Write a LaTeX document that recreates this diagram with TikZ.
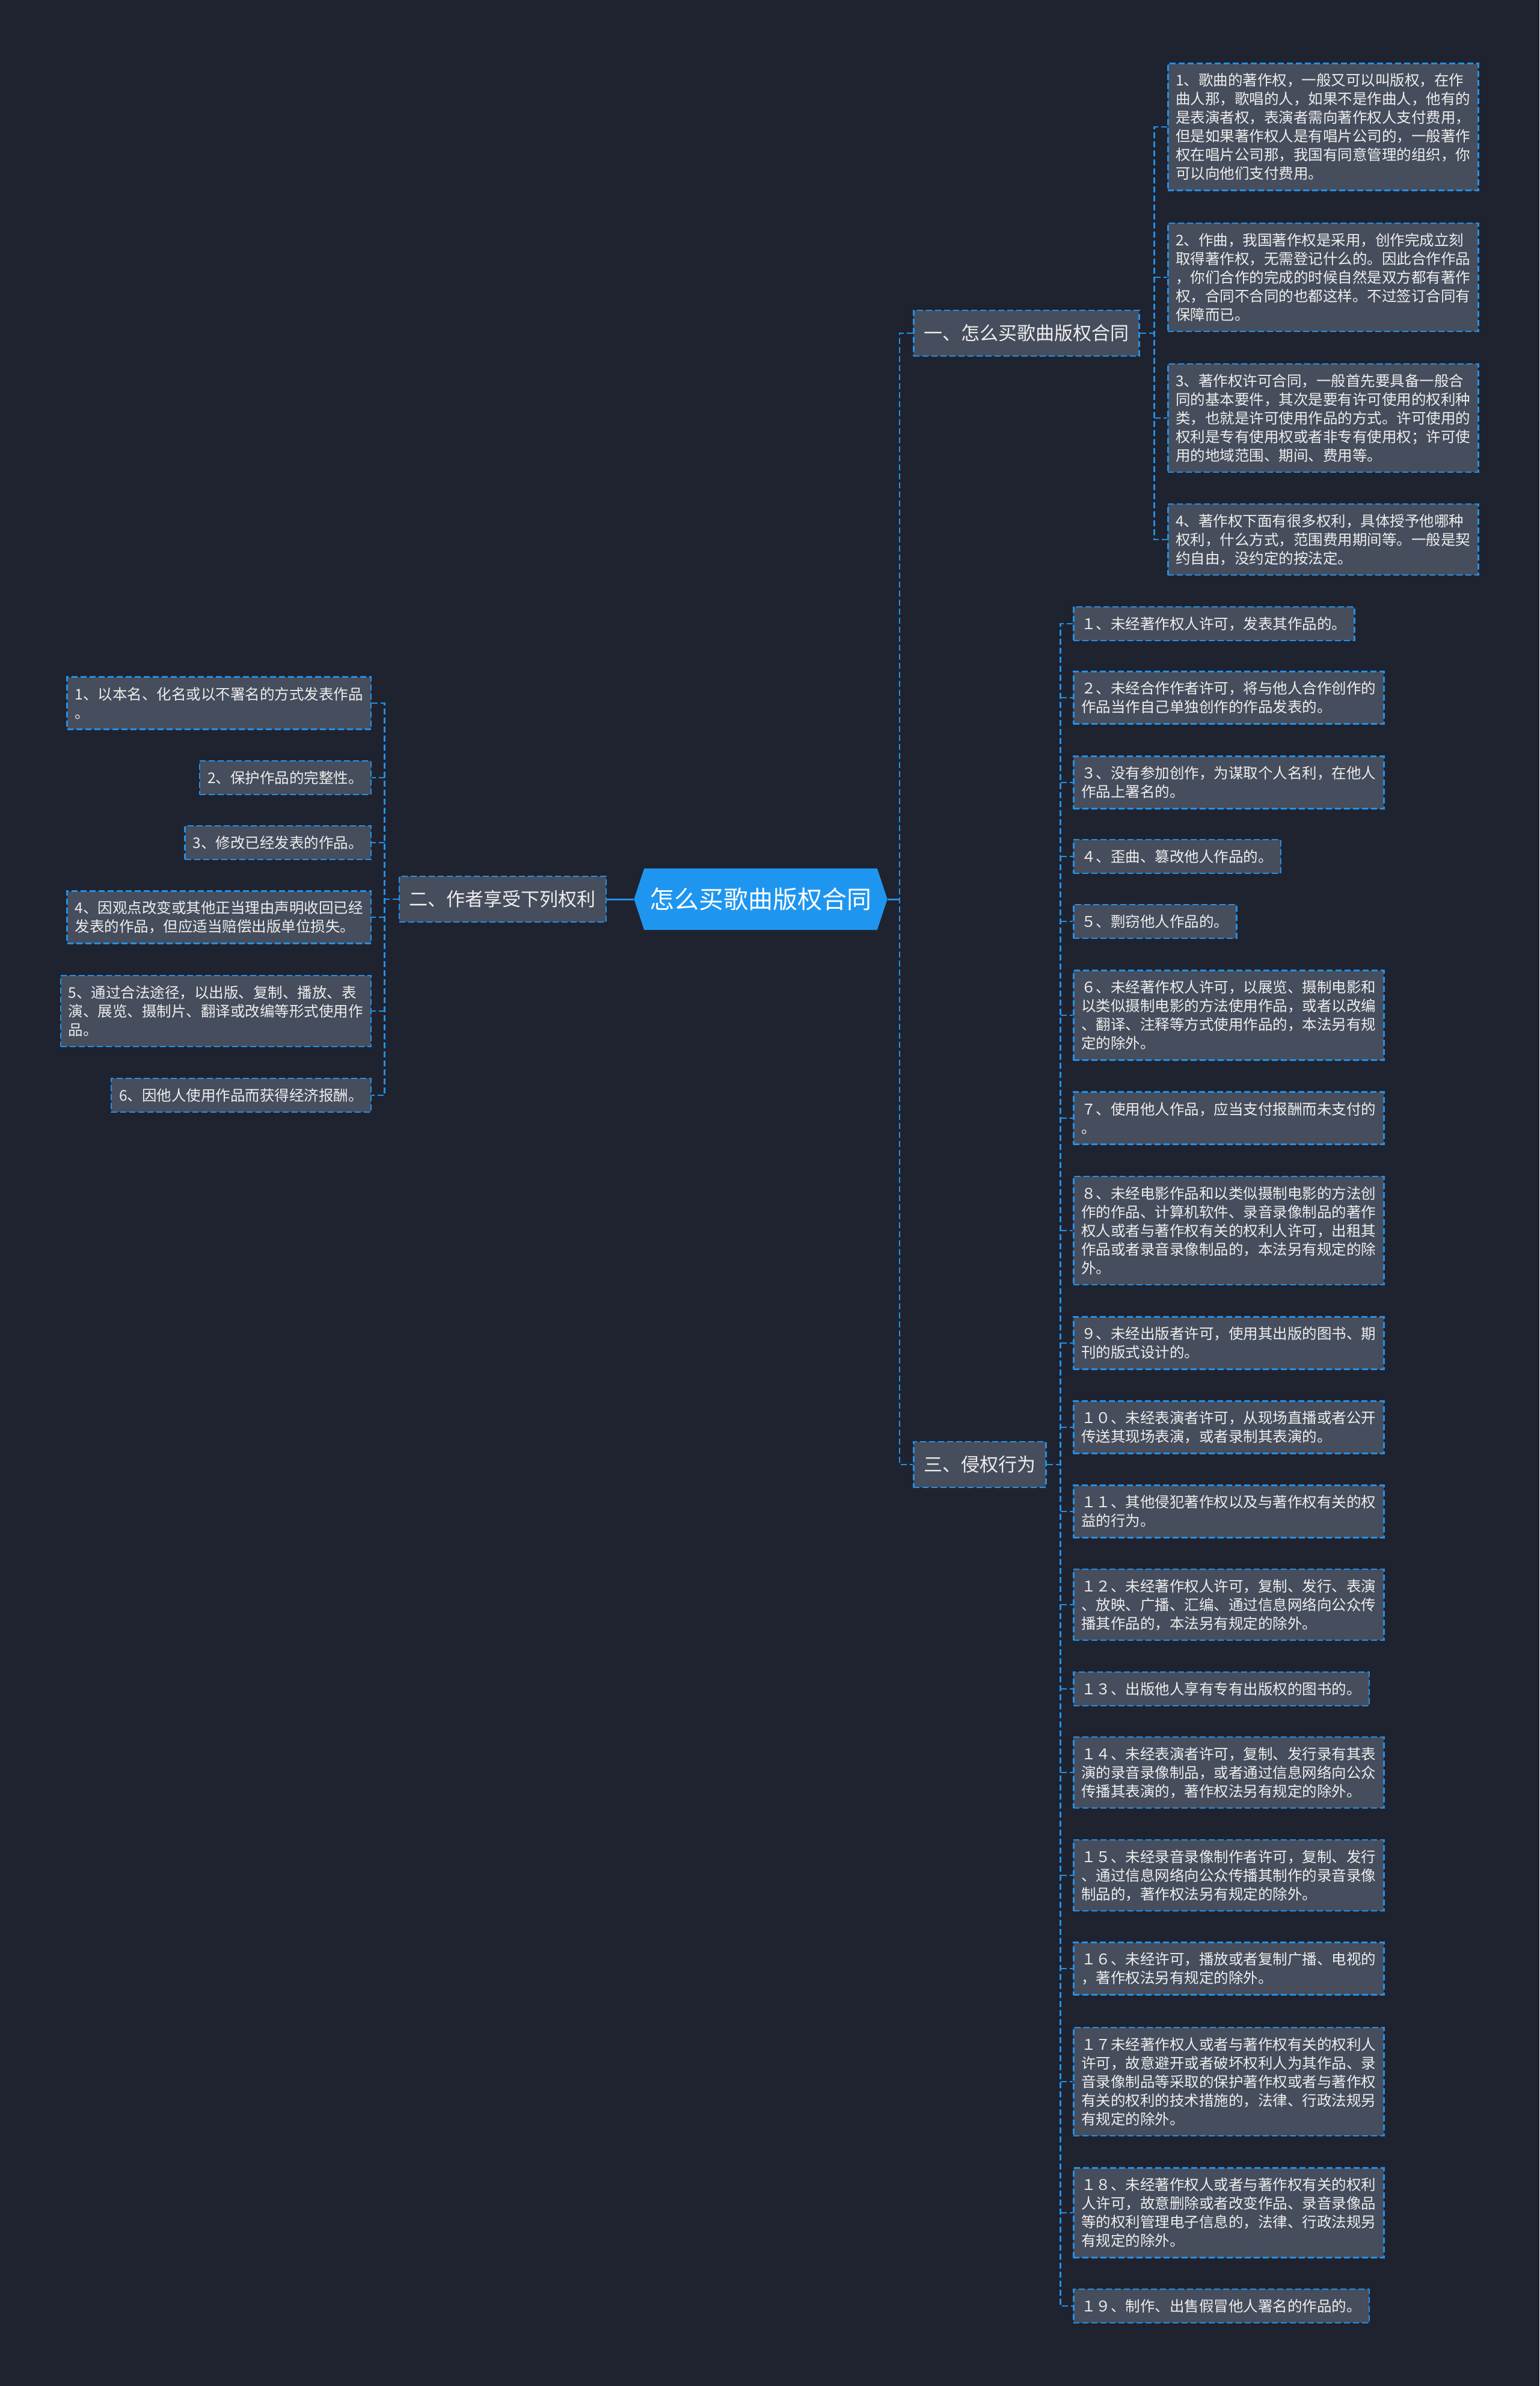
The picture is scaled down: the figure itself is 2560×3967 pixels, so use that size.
\documentclass[tikz,border=0pt]{standalone}
\usepackage{fontspec}
\setmainfont{Noto Sans CJK SC}
\usetikzlibrary{backgrounds}
\definecolor{bgc}{HTML}{1F2330}
\definecolor{boxfill}{HTML}{464D5C}
\definecolor{lineblue}{HTML}{2390E6}
\definecolor{rootfill}{HTML}{1E96F0}
\definecolor{txt}{HTML}{EEEEEE}
\tikzset{
  box/.style={draw=lineblue, fill=boxfill, line width=2.5pt, dash pattern=on 10pt off 5pt,
    text=txt, align=left, inner xsep=13pt, inner ysep=0pt,
    font=\fontsize{24.5}{31}\selectfont},
  lvl/.style={draw=lineblue, fill=boxfill, line width=2.5pt, dash pattern=on 10pt off 5pt,
    text=txt, inner xsep=17pt, inner ysep=0pt, minimum height=76pt,
    font=\fontsize{31}{38}\selectfont},
  ln1/.style={minimum height=56pt},
  ln2/.style={minimum height=87pt},
  ln3/.style={minimum height=118pt},
  ln4/.style={minimum height=149pt},
  ln5/.style={minimum height=180pt},
  ln6/.style={minimum height=211pt},
  dconn/.style={draw=lineblue, line width=2.5pt, dash pattern=on 10pt off 5pt},
  sconn/.style={draw=lineblue, line width=3pt},
}
\begin{document}
\begin{tikzpicture}[x=1pt,y=-1pt]
\useasboundingbox (0,0) rectangle (2560,3967);
\begin{scope}[on background layer]
  \fill[bgc] (0,0) rectangle (2560,3967);
\end{scope}

% root
\node[text=white, font=\fontsize{41}{48}\selectfont, minimum width=421pt, minimum height=102pt, inner sep=0pt] (root) at (1265,1495) {怎么买歌曲版权合同};
\begin{scope}[on background layer]
  \fill[rootfill] (root.west) -- ([xshift=17pt]root.north west) -- ([xshift=-17pt]root.north east)
    -- (root.east) -- ([xshift=-17pt]root.south east) -- ([xshift=17pt]root.south west) -- cycle;
\end{scope}

% level 1
\node[lvl, anchor=east] (L) at (1009,1495) {二、作者享受下列权利};
\node[lvl, anchor=west] (A) at (1518,554) {一、怎么买歌曲版权合同};
\node[lvl, anchor=west] (C) at (1518,2435) {三、侵权行为};

% A children
\node[box, ln6, anchor=west] (a1) at (1941,211) {1、歌曲的著作权，一般又可以叫版权，在作\\曲人那，歌唱的人，如果不是作曲人，他有的\\是表演者权，表演者需向著作权人支付费用，\\但是如果著作权人是有唱片公司的，一般著作\\权在唱片公司那，我国有同意管理的组织，你\\可以向他们支付费用。};
\node[box, ln5, anchor=west] (a2) at (1941,461) {2、作曲，我国著作权是采用，创作完成立刻\\取得著作权，无需登记什么的。因此合作作品\\，你们合作的完成的时候自然是双方都有著作\\权，合同不合同的也都这样。不过签订合同有\\保障而已。};
\node[box, ln5, anchor=west] (a3) at (1941,695) {3、著作权许可合同，一般首先要具备一般合\\同的基本要件，其次是要有许可使用的权利种\\类，也就是许可使用作品的方式。许可使用的\\权利是专有使用权或者非专有使用权；许可使\\用的地域范围、期间、费用等。};
\node[box, ln3, anchor=west] (a4) at (1941,897) {4、著作权下面有很多权利，具体授予他哪种\\权利，什么方式，范围费用期间等。一般是契\\约自由，没约定的按法定。};

% L children
\node[box, ln2, anchor=east] (l1) at (618,1169) {1、以本名、化名或以不署名的方式发表作品\\。};
\node[box, ln1, anchor=east] (l2) at (618,1293) {2、保护作品的完整性。};
\node[box, ln1, anchor=east] (l3) at (618,1401) {3、修改已经发表的作品。};
\node[box, ln2, anchor=east] (l4) at (618,1525) {4、因观点改变或其他正当理由声明收回已经\\发表的作品，但应适当赔偿出版单位损失。};
\node[box, ln3, anchor=east] (l5) at (618,1681) {5、通过合法途径，以出版、复制、播放、表\\演、展览、摄制片、翻译或改编等形式使用作\\品。};
\node[box, ln1, anchor=east] (l6) at (618,1821) {6、因他人使用作品而获得经济报酬。};

% C children
\node[box, ln1, anchor=west] (c1) at (1784,1037) {１、未经著作权人许可，发表其作品的。};
\node[box, ln2, anchor=west] (c2) at (1784,1160) {２、未经合作作者许可，将与他人合作创作的\\作品当作自己单独创作的作品发表的。};
\node[box, ln2, anchor=west] (c3) at (1784,1301) {３、没有参加创作，为谋取个人名利，在他人\\作品上署名的。};
\node[box, ln1, anchor=west] (c4) at (1784,1424) {４、歪曲、篡改他人作品的。};
\node[box, ln1, anchor=west] (c5) at (1784,1532) {５、剽窃他人作品的。};
\node[box, ln4, anchor=west] (c6) at (1784,1688) {６、未经著作权人许可，以展览、摄制电影和\\以类似摄制电影的方法使用作品，或者以改编\\、翻译、注释等方式使用作品的，本法另有规\\定的除外。};
\node[box, ln2, anchor=west] (c7) at (1784,1859) {７、使用他人作品，应当支付报酬而未支付的\\。};
\node[box, ln5, anchor=west] (c8) at (1784,2046) {８、未经电影作品和以类似摄制电影的方法创\\作的作品、计算机软件、录音录像制品的著作\\权人或者与著作权有关的权利人许可，出租其\\作品或者录音录像制品的，本法另有规定的除\\外。};
\node[box, ln2, anchor=west] (c9) at (1784,2233) {９、未经出版者许可，使用其出版的图书、期\\刊的版式设计的。};
\node[box, ln2, anchor=west] (c10) at (1784,2373) {１０、未经表演者许可，从现场直播或者公开\\传送其现场表演，或者录制其表演的。};
\node[box, ln2, anchor=west] (c11) at (1784,2513) {１１、其他侵犯著作权以及与著作权有关的权\\益的行为。};
\node[box, ln3, anchor=west] (c12) at (1784,2668) {１２、未经著作权人许可，复制、发行、表演\\、放映、广播、汇编、通过信息网络向公众传\\播其作品的，本法另有规定的除外。};
\node[box, ln1, anchor=west] (c13) at (1784,2808) {１３、出版他人享有专有出版权的图书的。};
\node[box, ln3, anchor=west] (c14) at (1784,2947) {１４、未经表演者许可，复制、发行录有其表\\演的录音录像制品，或者通过信息网络向公众\\传播其表演的，著作权法另有规定的除外。};
\node[box, ln3, anchor=west] (c15) at (1784,3118) {１５、未经录音录像制作者许可，复制、发行\\、通过信息网络向公众传播其制作的录音录像\\制品的，著作权法另有规定的除外。};
\node[box, ln2, anchor=west] (c16) at (1784,3273) {１６、未经许可，播放或者复制广播、电视的\\，著作权法另有规定的除外。};
\node[box, ln5, anchor=west] (c17) at (1784,3461) {１７未经著作权人或者与著作权有关的权利人\\许可，故意避开或者破坏权利人为其作品、录\\音录像制品等采取的保护著作权或者与著作权\\有关的权利的技术措施的，法律、行政法规另\\有规定的除外。};
\node[box, ln4, anchor=west] (c18) at (1784,3679) {１８、未经著作权人或者与著作权有关的权利\\人许可，故意删除或者改变作品、录音录像品\\等的权利管理电子信息的，法律、行政法规另\\有规定的除外。};
\node[box, ln1, anchor=west] (c19) at (1784,3834) {１９、制作、出售假冒他人署名的作品的。};

% root connectors
\coordinate (tr) at ([xshift=-22pt]A.west);
\draw[sconn] (root.west) -- (L.east);
\draw[sconn] (root.east) -- (root.east -| tr);
\draw[dconn] (A.west) -- (tr) |- (C.west);

% A bus
\coordinate (ab) at ([xshift=24pt]A.east);
\draw[dconn] (A.east) -- (ab);
\draw[dconn] (a1.west) -- (a1.west -| ab) -- (a4.west -| ab) -- (a4.west);
\foreach \n in {a2,a3} \draw[dconn] (\n.west -| ab) -- (\n.west);

% L bus
\coordinate (lb) at ([xshift=-23pt]L.west);
\draw[dconn] (L.west) -- (lb);
\draw[dconn] (l1.east) -- (l1.east -| lb) -- (l6.east -| lb) -- (l6.east);
\foreach \n in {l2,l3,l4,l5} \draw[dconn] (\n.east -| lb) -- (\n.east);

% C bus
\coordinate (cb) at ([xshift=23pt]C.east);
\draw[dconn] (C.east) -- (cb);
\draw[dconn] (c1.west) -- (c1.west -| cb) -- (c19.west -| cb) -- (c19.west);
\foreach \n in {c2,c3,c4,c5,c6,c7,c8,c9,c10,c11,c12,c13,c14,c15,c16,c17,c18} \draw[dconn] (\n.west -| cb) -- (\n.west);
\end{tikzpicture}
\end{document}
